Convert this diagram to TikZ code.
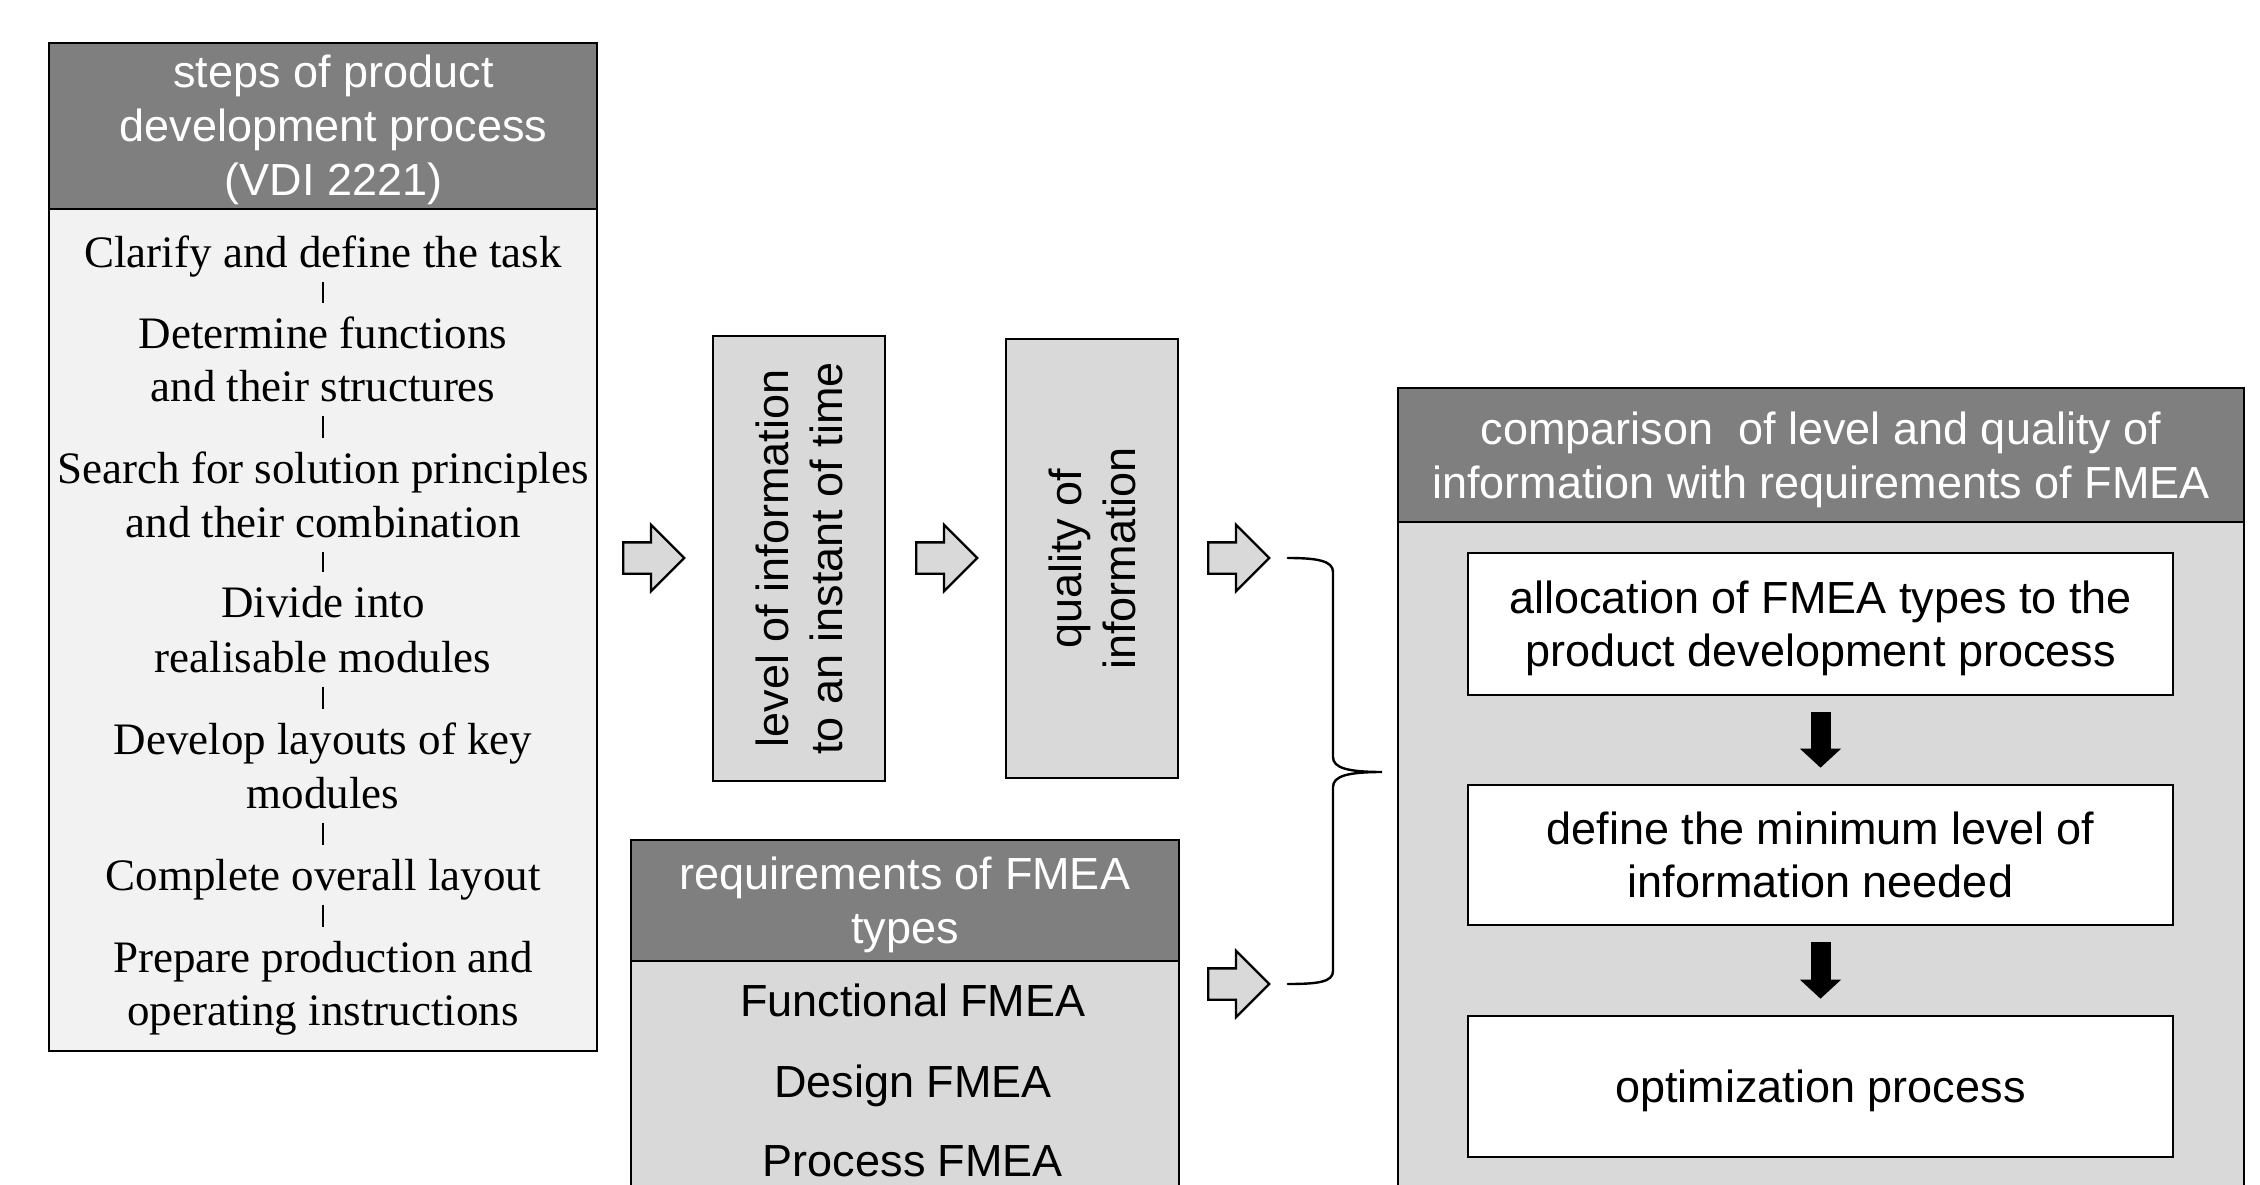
\documentclass[tikz,border=0pt]{standalone}
\usepackage{fontspec}
\setmainfont{Liberation Serif}
\newfontfamily\arialfont{Liberation Sans}
\usetikzlibrary{shapes.arrows,arrows.meta,calc}
\definecolor{hdrgray}{HTML}{7F7F7F}
\definecolor{boxgray}{HTML}{D9D9D9}
\definecolor{pagegray}{HTML}{F2F2F2}

\begin{document}
\begin{tikzpicture}[x=1pt,y=-1pt,
  frame/.style={draw=black, line width=2.6pt, rectangle, inner sep=0pt},
  hdr/.style={frame, fill=hdrgray, text=white, align=center, text depth=-2pt,
    font=\arialfont\fontsize{45}{54}\selectfont},
  hdrtext/.style={text=white, align=center, inner sep=0pt, text depth=0pt,
    font=\arialfont\fontsize{45}{54}\selectfont},
  panel/.style={frame, fill=boxgray},
  whitebox/.style={frame, fill=white, align=center, text depth=-2pt,
    font=\arialfont\fontsize{45}{53}\selectfont},
  vbox/.style={frame, fill=boxgray, rotate=90, align=center,
    font=\arialfont\fontsize{45}{54}\selectfont},
  sanstext/.style={font=\arialfont\fontsize{45}{53}\selectfont, inner sep=0pt,
    text height=33pt, text depth=0pt},
  stepline/.style={font=\fontsize{45}{53}\selectfont, inner sep=0pt,
    text height=31pt, text depth=0pt, yshift=-1.5pt},
  stepbar/.style={line width=2.6pt, shorten <=14pt, shorten >=14pt},
  flowarrow/.style={single arrow, draw=black, fill=boxgray, line width=2.4pt,
    single arrow head extend=17.5pt, inner xsep=0pt, inner ysep=14.5pt,
    minimum height=61pt, anchor=tail},
  solidarrow/.style={line width=20pt, -{Triangle[width=40pt,length=19pt]},
    shorten <=16pt, shorten >=16pt},
  brace/.style={line width=2.4pt, line cap=round}
]
\useasboundingbox (0,0) rectangle (2260,1185);
\clip (0,0) rectangle (2260,1185);

% ---- steps of the product development process (VDI 2221)
\node[frame, fill=pagegray, minimum width=548pt, minimum height=842pt] (lbody) at (323,630) {};
\node[frame, fill=hdrgray, minimum width=548pt, minimum height=166pt] (lhead) at (323,126) {};
\node[hdrtext] (lheadtext) at ($(lhead.center)+(10.5,-0.5)$)
  {steps of product\\development process\\(VDI 2221)};

\node[stepline] (s1)  at (323,250.5) {Clarify and define the task};
\node[stepline] (s2a) at (323,331.5) {Determine functions};
\node[stepline] (s2b) at (323,384.5) {and their structures};
\node[stepline] (s3a) at (323,466.5) {Search for solution principles};
\node[stepline] (s3b) at (323,520.5) {and their combination};
\node[stepline] (s4a) at (323,600.5) {Divide into};
\node[stepline] (s4b) at (323,655.5) {realisable modules};
\node[stepline] (s5a) at (323,737.5) {Develop layouts of key};
\node[stepline] (s5b) at (323,791.5) {modules};
\node[stepline] (s6)  at (323,873.5) {Complete overall layout};
\node[stepline] (s7a) at (323,955.5) {Prepare production and};
\node[stepline] (s7b) at (323,1008.5) {operating instructions};

\draw[stepbar] (s1.south) -- (s2a.north);
\draw[stepbar] (s2b.south) -- (s3a.north);
\draw[stepbar] (s3b.south) -- (s4a.north);
\draw[stepbar] (s4b.south) -- (s5a.north);
\draw[stepbar] (s5b.south) -- (s6.north);
\draw[stepbar] (s6.south) -- (s7a.north);

% ---- information level and quality
\node[flowarrow] (ar1) at (622,558) {};
\node[vbox, minimum width=445pt, minimum height=172pt] (level) at (799,558.5)
  {level of information\\to an instant of time};
\node[flowarrow] (ar2) at (915,558) {};
\node[vbox, minimum width=439pt, minimum height=172pt] (quality) at (1092,558.5)
  {quality of\\information};
\node[flowarrow] (ar3) at (1207,558) {};

% ---- requirements of FMEA types
\node[panel, minimum width=548pt, minimum height=339pt] (rqbody) at (905,1130.5) {};
\node[hdr, minimum width=548pt, minimum height=121pt] (rqhead) at (905,900.5)
  {requirements of FMEA\\types};
\node[sanstext] (fm1) at (913,1000) {Functional FMEA};
\node[sanstext] (fm2) at (913,1081) {Design FMEA};
\node[sanstext] (fm3) at (913,1160) {Process FMEA};
\node[flowarrow] (ar4) at (1207,984) {};

% ---- brace joining both inputs
\coordinate (bt) at ($(ar3.tip)+(17,0)$);
\coordinate (bb) at ($(ar4.tip)+(17,0)$);
\coordinate (bm) at (1382,772);
\draw[brace] (bt) .. controls (1318,558) and (1333,561) .. (1333,572)
  -- (1333,757) .. controls (1333,768) and (1348,772) .. (bm)
  .. controls (1348,772) and (1333,776) .. (1333,787)
  -- (1333,971) .. controls (1333,982) and (1318,984) .. (bb);

% ---- comparison with the requirements of FMEA
\node[panel, minimum width=846pt, minimum height=778pt] (cbody) at (1821,911) {};
\node[hdr, minimum width=846pt, minimum height=134pt] (chead) at (1821,455)
  {comparison\ \ of level and quality of\\information with requirements of FMEA};
\node[whitebox, minimum width=705pt, minimum height=142pt] (b1) at (1820.5,624)
  {allocation of FMEA types to the\\product development process};
\node[whitebox, minimum width=705pt, minimum height=140pt, text depth=-9pt] (b2) at (1820.5,855)
  {define the minimum level of\\information needed};
\node[whitebox, minimum width=705pt, minimum height=141pt, text depth=-6pt] (b3) at (1820.5,1086.5)
  {optimization process};
\draw[solidarrow] (b1.south) -- (b2.north);
\draw[solidarrow] (b2.south) -- (b3.north);
\end{tikzpicture}
\end{document}
